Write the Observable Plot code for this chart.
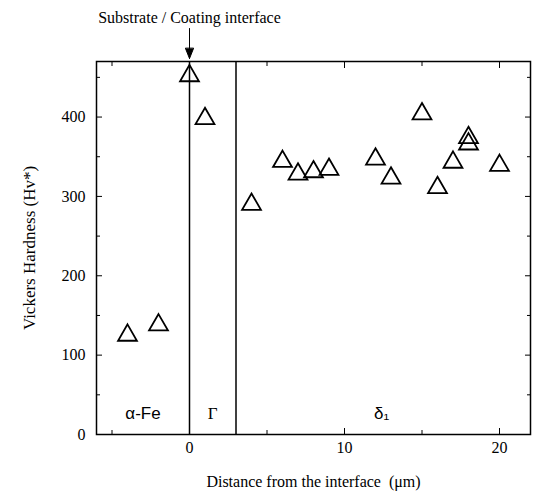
<!DOCTYPE html>
<html><head><meta charset="utf-8">
<script src="https://cdn.jsdelivr.net/npm/d3@7"></script>
<script src="https://cdn.jsdelivr.net/npm/@observablehq/plot@0.6"></script>
<style>body{margin:0;background:#fff}</style>
</head><body><div id="chart"></div>
<script>
const distance = [-4, -2, 0, 1, 4, 6, 7, 8, 9, 12, 13, 15, 16, 17, 18, 18, 20];
const hardness = [125, 138, 452, 398, 290, 344, 328, 331, 334, 347, 323, 404, 311, 343, 374, 366, 339];
const boundaries = [0, 3];
const sansPhases = ["α-Fe", "δ₁"];
const sansPhaseX = [-3, 12.4];
const serifPhases = ["Γ"];
const serifPhaseX = [1.5];
const phaseLabelY = 27;
const xMajor = [0, 10, 20];
const xMinor = [-5, 5, 15];
const yMajor = [0, 100, 200, 300, 400];
const yMinor = [50, 150, 250, 350, 450];
const interfaceTitle = "Substrate / Coating interface";
const xTitle = "Distance from the interface\u00a0\u00a0(μm)";
const yTitle = "Vickers Hardness (Hv*)";

const arrowShape = {
  draw(context, l) {
    context.moveTo(0, 0);
    context.lineTo(0, -l);
    context.moveTo(-4, 10 - l);
    context.lineTo(0, -l);
    context.lineTo(4, 10 - l);
    context.closePath();
  }
};
const blank = () => "";

const chart = Plot.plot({
  width: 533,
  height: 492,
  marginLeft: 96,
  marginRight: 3,
  marginTop: 61,
  marginBottom: 58,
  style: {fontFamily: "Liberation Serif", fontSize: "16px", color: "black", background: "white"},
  x: {domain: [-6, 22]},
  y: {domain: [0, 470]},
  marks: [
    Plot.frame({stroke: "black", strokeWidth: 1.5}),
    Plot.axisX(xMajor, {tickSize: 0, tickPadding: 7, label: xTitle, labelAnchor: "center", labelOffset: 52, labelArrow: "none", fontSize: 16}),
    Plot.axisY(yMajor, {tickSize: 0, tickPadding: 11, label: null, fontSize: 16}),
    Plot.axisY([], {tickSize: 0, label: yTitle, labelAnchor: "center", labelOffset: 74, labelArrow: "none", fontSize: 17}),
    Plot.axisX(xMajor, {tickSize: -6, tickFormat: blank, label: null}),
    Plot.axisX(xMinor, {tickSize: -4, tickFormat: blank, label: null}),
    Plot.axisX(xMajor, {anchor: "top", tickSize: -6, tickFormat: blank, label: null}),
    Plot.axisX(xMinor, {anchor: "top", tickSize: -4, tickFormat: blank, label: null}),
    Plot.axisY(yMajor, {tickSize: -6, tickFormat: blank, label: null}),
    Plot.axisY(yMinor, {tickSize: -4, tickFormat: blank, label: null}),
    Plot.axisY(yMajor, {anchor: "right", tickSize: -6, tickFormat: blank, label: null}),
    Plot.axisY(yMinor, {anchor: "right", tickSize: -4, tickFormat: blank, label: null}),
    Plot.ruleX(boundaries, {stroke: "black", strokeWidth: 1.5}),
    Plot.text(sansPhases, {x: sansPhaseX, y: () => phaseLabelY, text: sansPhases, fontFamily: "Liberation Sans", fontSize: 17, fill: "black"}),
    Plot.text(serifPhases, {x: serifPhaseX, y: () => phaseLabelY, text: serifPhases, fontFamily: "Liberation Serif", fontSize: 17, fill: "black"}),
    Plot.dot(hardness, {x: distance, y: hardness, symbol: "triangle", r: 7, stroke: "black", strokeWidth: 1.8, fill: "none"}),
    Plot.vector([0], {x: d => d, frameAnchor: "top", anchor: "end", length: 30, rotate: 180, dy: -3, shape: arrowShape, stroke: "black", fill: "black", strokeWidth: 1}),
    Plot.text([0], {x: d => d, text: () => interfaceTitle, frameAnchor: "top", dy: -50, fontSize: 16, fill: "black"})
  ]
});
document.getElementById("chart").appendChild(chart);
</script>
</body></html>
